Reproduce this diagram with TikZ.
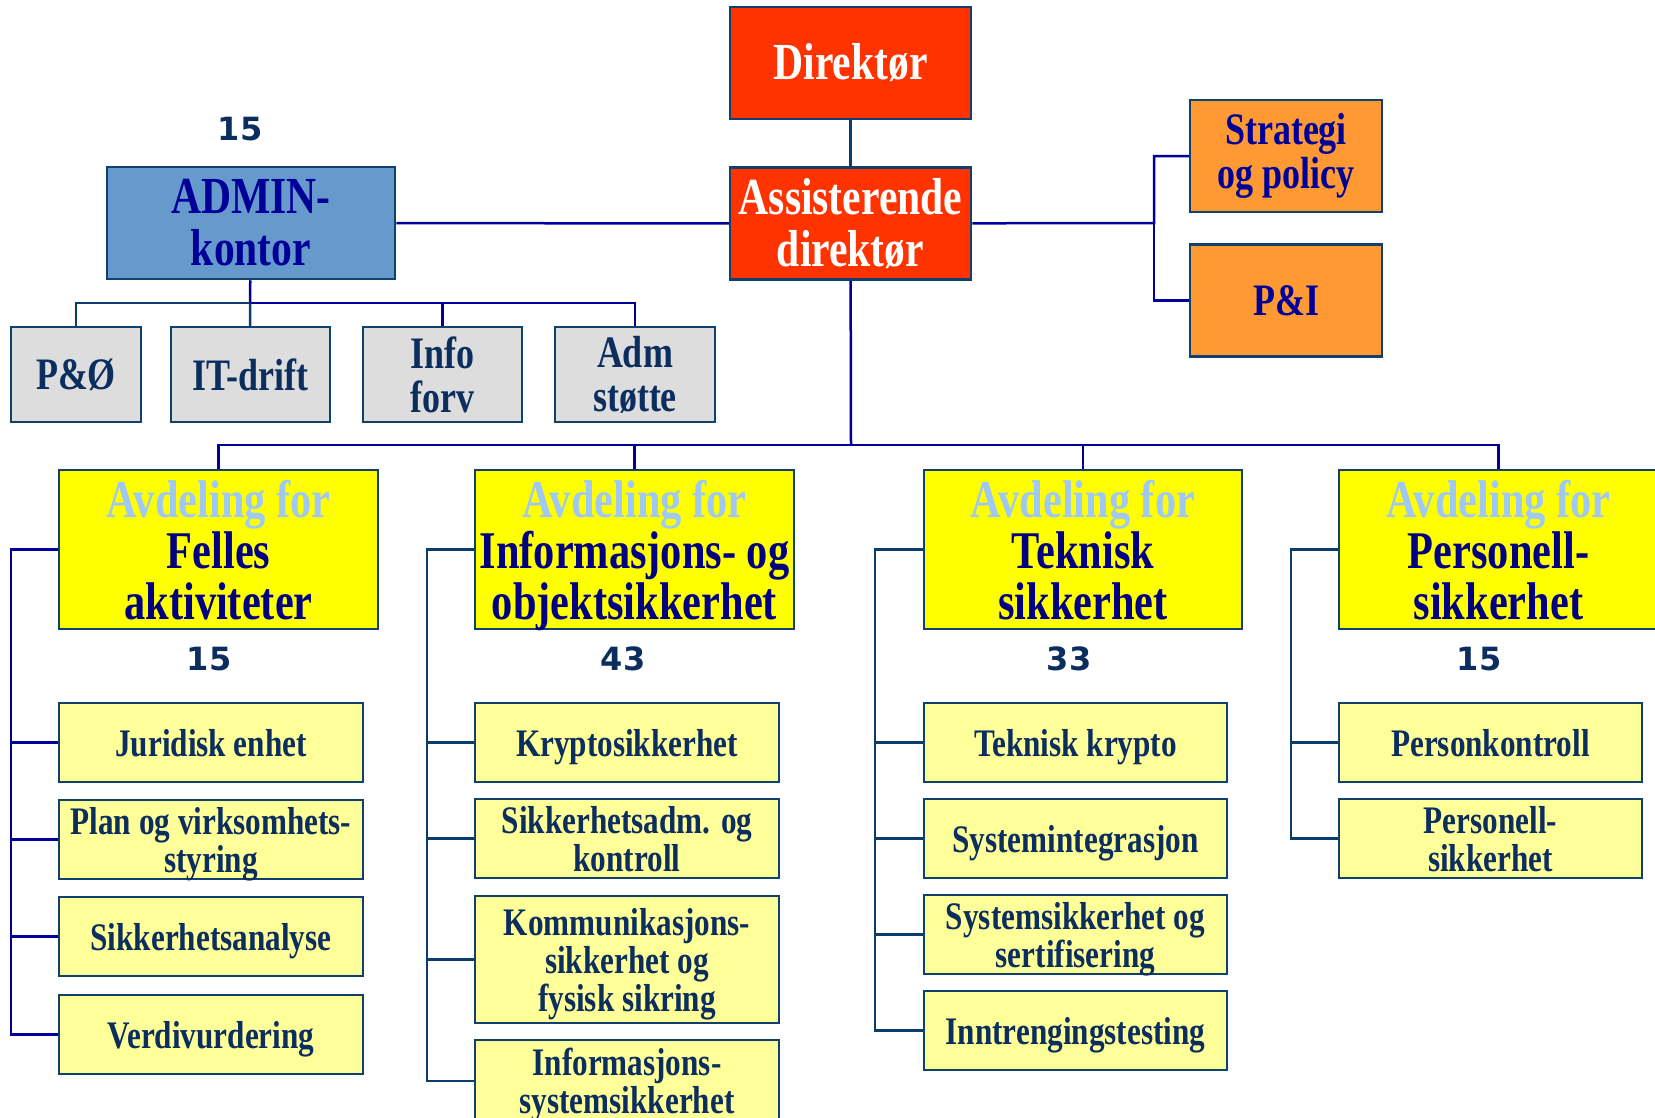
\documentclass[tikz,border=0pt]{standalone}
\usepackage{fontspec}
\setmainfont{Liberation Serif}[FakeStretch=0.8]
\newfontfamily\numfont{DejaVu Sans}
\usepackage{tikz}

\definecolor{redfill}{HTML}{FF3300}
\definecolor{adminfill}{HTML}{6699CC}
\definecolor{grayfill}{HTML}{DDDDDD}
\definecolor{orangefill}{HTML}{FF9933}
\definecolor{deptfill}{HTML}{FFFF00}
\definecolor{subfill}{HTML}{FFFF99}
\definecolor{avdblue}{HTML}{9FC8F5}
\definecolor{navytext}{HTML}{000080}
\definecolor{darktext}{HTML}{0B2E5E}
\definecolor{boxline}{HTML}{10406E}
\definecolor{lineblue}{HTML}{000099}
\definecolor{lineteal}{HTML}{0B3C6E}

\begin{document}
\begin{tikzpicture}[x=1pt,y=-1pt,
  box/.style={draw=boxline,line width=2.5pt,inner sep=0pt,align=center},
  redbox/.style={box,fill=redfill,text=white,minimum width=241,minimum height=112,
    font=\bfseries\fontsize{52}{52}\selectfont},
  adminbox/.style={box,fill=adminfill,text=lineblue,minimum width=288,minimum height=112,
    font=\bfseries\fontsize{52}{52}\selectfont},
  orangebox/.style={box,fill=orangefill,text=lineblue,minimum width=192,minimum height=112,
    font=\bfseries\fontsize{45}{44}\selectfont},
  graybox/.style={box,fill=grayfill,text=darktext,minimum height=95,
    font=\bfseries\fontsize{45}{44}\selectfont},
  deptbox/.style={box,fill=deptfill,text=navytext,minimum width=319,minimum height=159,
    text depth=0pt,font=\bfseries\fontsize{53}{51}\selectfont},
  subbox/.style={box,fill=subfill,text=darktext,minimum width=304,minimum height=79,
    text depth=0pt,font=\bfseries\fontsize{39}{38}\selectfont},
  count/.style={text=darktext,font=\numfont\bfseries\fontsize{32}{32}\selectfont},
  mainline/.style={draw=lineblue,line width=2.5pt},
  sideline/.style={draw=lineteal,line width=2.5pt}
]
\useasboundingbox (0,0) rectangle (1655,1117);
\clip (0,0) rectangle (1655,1117);

% Top of the chart
\node[redbox] (dir) at (850.5,63) {Direktør};
\node[redbox] (ass) at (850.5,223.5) {Assisterende\\direktør};
\node[adminbox] (admin) at (251,223) {ADMIN-\\kontor};
\node[count] (nadmin) at (240,129) {15};
\node[orangebox] (strat) at (1286,156) {Strategi\\og policy};
\node[orangebox] (pi) at (1286,300.5) {P\&I};

% Admin units
\node[graybox,minimum width=130] (po) at (76,374.5) {P\&Ø};
\node[graybox,minimum width=159] (it) at (250.5,374.5) {IT-drift};
\node[graybox,minimum width=159] (info) at (442.5,374.5) {Info\\forv};
\node[graybox,minimum width=160] (adm) at (635,374.5) {Adm\\støtte};

% Departments
\node[deptbox] (d1) at (218.5,549.5) {{\color{avdblue}Avdeling for}\\Felles\\aktiviteter};
\node[deptbox] (d2) at (634.5,549.5) {{\color{avdblue}Avdeling for}\\Informasjons- og\\objektsikkerhet};
\node[deptbox,minimum width=318] (d3) at (1083,549.5) {{\color{avdblue}Avdeling for}\\Teknisk\\sikkerhet};
\node[deptbox] (d4) at (1498.5,549.5) {{\color{avdblue}Avdeling for}\\Personell-\\sikkerhet};

% Staff numbers
\node[count] (n1) at (209,659) {15};
\node[count] (n2) at (623,659) {43};
\node[count] (n3) at (1069,659) {33};
\node[count] (n4) at (1479,659) {15};

% Column 1
\node[subbox] (s11) at (211,742.5) {Juridisk enhet};
\node[subbox] (s12) at (211,839.5) {Plan og virksomhets-\\styring};
\node[subbox] (s13) at (211,936.5) {Sikkerhetsanalyse};
\node[subbox] (s14) at (211,1034.5) {Verdivurdering};

% Column 2
\node[subbox] (s21) at (627,742.5) {Kryptosikkerhet};
\node[subbox] (s22) at (627,838.5) {Sikkerhetsadm. og\\kontroll};
\node[subbox,minimum height=127] (s23) at (627,959.5) {Kommunikasjons-\\sikkerhet og\\fysisk sikring};
\node[subbox,minimum height=82] (s24) at (627,1081) {Informasjons-\\systemsikkerhet};

% Column 3
\node[subbox,minimum width=303] (s31) at (1075.5,742.5) {Teknisk krypto};
\node[subbox,minimum width=303] (s32) at (1075.5,838.5) {Systemintegrasjon};
\node[subbox,minimum width=303] (s33) at (1075.5,934.5) {Systemsikkerhet og\\sertifisering};
\node[subbox,minimum width=303] (s34) at (1075.5,1030.5) {Inntrengingstesting};

% Column 4
\node[subbox,minimum width=303] (s41) at (1490.5,742.5) {Personkontroll};
\node[subbox,minimum width=303] (s42) at (1490.5,838.5) {Personell-\\sikkerhet};

% Junctions
\coordinate (rbus) at (1154,223);
\coordinate (abus) at (250,303);
\coordinate (mbus) at (851,445);
\coordinate (c1) at (11,549.5);
\coordinate (c2) at (427,549.5);
\coordinate (c3) at (875,549.5);
\coordinate (c4) at (1291,549.5);

% Lines between the top boxes
\draw[sideline] (dir) -- (ass);
\draw[mainline] (admin) -- (ass);
\draw[mainline] (ass) -- (rbus) |- (strat);
\draw[mainline] (rbus) |- (pi);
\draw[mainline] (admin) -- (abus);
\draw[sideline] (abus) -| (po);
\draw[sideline] (abus) -- (it);
\draw[mainline] (abus) -| (info);
\draw[mainline] (abus) -| (adm);

% Lines to the departments
\draw[mainline] (ass) -- (mbus);
\draw[mainline] (mbus) -| (d1);
\draw[mainline] (mbus) -| (d2);
\draw[mainline] (mbus) -| (d3);
\draw[mainline] (mbus) -| (d4);

% Lines down each column
\draw[mainline] (d1) -- (c1) |- (s14);
\draw[mainline] (c1) |- (s11);
\draw[mainline] (c1) |- (s12);
\draw[mainline] (c1) |- (s13);
\draw[sideline] (d2) -- (c2) |- (s24);
\draw[sideline] (c2) |- (s21);
\draw[sideline] (c2) |- (s22);
\draw[sideline] (c2) |- (s23);
\draw[sideline] (d3) -- (c3) |- (s34);
\draw[sideline] (c3) |- (s31);
\draw[sideline] (c3) |- (s32);
\draw[sideline] (c3) |- (s33);
\draw[sideline] (d4) -- (c4) |- (s42);
\draw[sideline] (c4) |- (s41);
\end{tikzpicture}
\end{document}
